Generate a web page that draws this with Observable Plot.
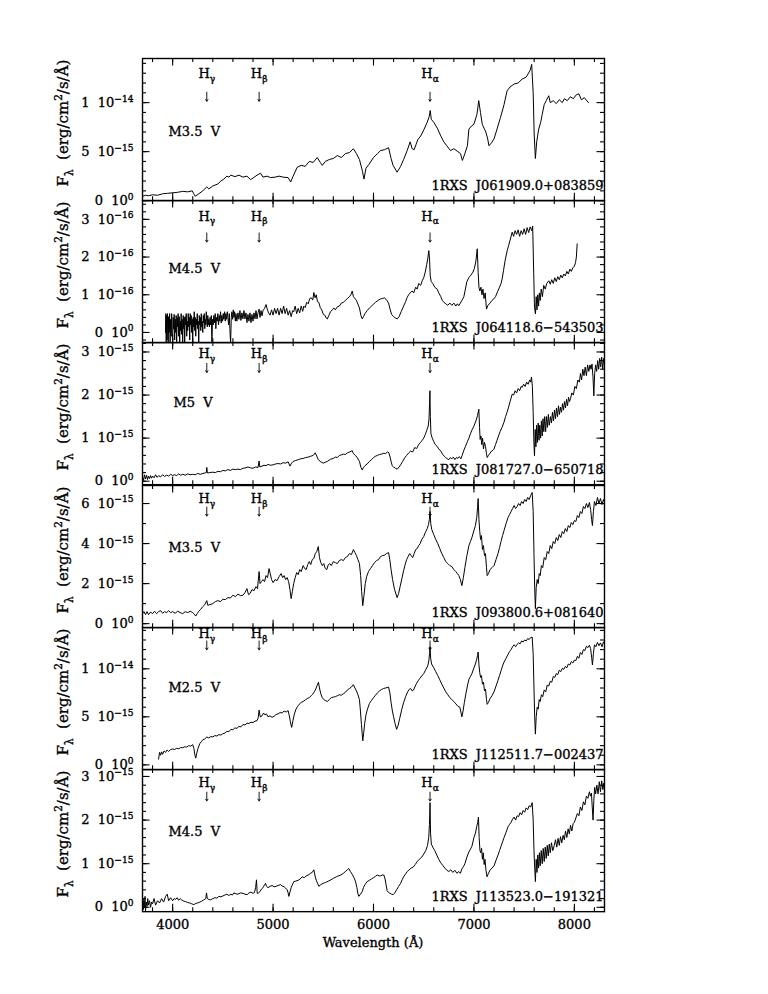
<!DOCTYPE html>
<html><head><meta charset="utf-8">
<script src="https://cdn.jsdelivr.net/npm/d3@7"></script>
<script src="https://cdn.jsdelivr.net/npm/@observablehq/plot@0.6"></script>
<style>
body{margin:0;background:#fff;}
#chart{position:relative;width:768px;height:994px;}
#chart svg{position:absolute;left:0;overflow:visible;}
#chart svg text{stroke:black;stroke-width:0.35px;}
</style></head><body><div id="chart"></div>
<script>
// ---------- data ----------
const objectNames = ["1RXS  J061909.0+083859","1RXS  J064118.6\u2212543503","1RXS  J081727.0\u2212650718","1RXS  J093800.6+081640","1RXS  J112511.7\u2212002437","1RXS  J113523.0\u2212191321"];
const spectralTypes = ["M3.5  V","M4.5  V","M5  V","M3.5  V","M2.5  V","M4.5  V"];
const lineWavelengths = [4340, 4861, 6563];
const lineNames = ["H_\u03b3","H_\u03b2","H_\u03b1"];
// flux units per panel (panel 2 in 1e-16, others 1e-15)
const fluxUnits = [1e-15, 1e-16, 1e-15, 1e-15, 1e-15, 1e-15];

const spec1 = [[3700,0.45],[3730,0.55],[3760,0.5],[3800,0.6],[3850,0.55],[3900,0.7],[3950,0.75],[4000,0.8],[4050,0.85],[4100,0.95],[4150,0.9],[4195,1.0],[4210,0.7],[4225,0.45],[4260,0.7],[4300,1.0],[4340,1.4],[4360,1.2],[4400,1.5],[4450,1.7],[4480,2.0],[4510,2.2],[4540,2.5],[4560,2.4],[4580,2.6],[4620,2.45],[4660,2.6],[4700,2.4],[4740,2.5],[4775,2.15],[4800,2.3],[4840,2.6],[4875,2.8],[4900,2.4],[4940,2.5],[4975,2.35],[5020,2.4],[5060,2.5],[5100,2.4],[5150,2.35],[5175,1.9],[5200,2.5],[5240,3.4],[5280,3.6],[5320,3.5],[5360,4.0],[5400,3.9],[5440,4.4],[5470,3.9],[5490,3.6],[5520,4.0],[5560,4.2],[5600,4.3],[5640,4.6],[5680,4.4],[5720,4.8],[5760,4.9],[5800,5.3],[5830,4.8],[5860,4.2],[5890,3.0],[5905,2.2],[5925,3.3],[5955,3.7],[6000,4.4],[6040,4.8],[6070,5.1],[6110,5.2],[6150,5.4],[6175,4.3],[6195,3.6],[6235,2.9],[6270,3.5],[6300,4.2],[6335,5.1],[6365,6.0],[6385,5.3],[6405,5.2],[6440,6.2],[6470,6.6],[6500,7.2],[6535,8.0],[6555,8.6],[6565,9.2],[6575,8.3],[6600,8.0],[6635,7.4],[6670,6.6],[6700,6.0],[6730,5.6],[6767,5.1],[6800,5.3],[6840,5.0],[6866,4.8],[6885,4.1],[6910,4.8],[6935,5.6],[6950,7.3],[6975,7.6],[7000,7.8],[7030,8.8],[7048,10.2],[7065,9.0],[7083,7.8],[7100,7.4],[7115,7.1],[7135,6.4],[7150,5.6],[7175,5.9],[7200,6.3],[7230,7.3],[7265,8.5],[7300,9.8],[7330,11.2],[7360,11.6],[7400,11.9],[7440,12.0],[7480,12.4],[7520,12.6],[7560,13.3],[7575,13.9],[7590,11.0],[7600,6.8],[7612,4.3],[7625,6.0],[7645,7.3],[7665,8.0],[7680,8.8],[7700,9.8],[7720,10.2],[7745,10.7],[7760,10.0],[7790,10.2],[7820,9.9],[7850,10.3],[7880,10.0],[7900,10.4],[7930,10.2],[7960,10.6],[7990,10.4],[8020,10.8],[8045,10.9],[8070,10.3],[8100,10.5],[8140,10.0]];

const spec2 = [[3929,0.0],[3932,0.5],[3936,-0.3],[3940,0.45],[3944,-0.2],[3948,0.5],[3952,0.1],[3956,-0.3],[3960,0.42],[3965,0.0],[3970,0.5],[3975,-0.25],[3980,0.35],[3985,-0.1],[3990,0.5],[3995,0.0],[4000,-0.3],[4005,0.4],[4010,0.1],[4015,0.48],[4020,-0.2],[4025,0.35],[4030,0.0],[4035,0.45],[4040,-0.3],[4045,0.4],[4050,0.15],[4055,0.5],[4060,-0.1],[4065,0.42],[4070,-0.3],[4075,0.3],[4080,0.05],[4085,0.5],[4090,-0.05],[4095,0.35],[4100,-0.25],[4105,0.45],[4110,0.1],[4115,0.4],[4120,-0.3],[4125,0.42],[4130,0.2],[4135,0.5],[4140,-0.1],[4145,0.3],[4150,0.05],[4155,0.5],[4160,0.15],[4165,0.4],[4170,-0.2],[4175,0.5],[4180,0.2],[4185,0.45],[4190,0.0],[4195,0.35],[4200,-0.25],[4205,0.4],[4210,0.15],[4215,0.55],[4220,0.05],[4225,0.4],[4230,-0.1],[4235,0.35],[4240,0.2],[4245,0.5],[4250,0.1],[4255,0.3],[4260,-0.3],[4265,0.45],[4270,0.2],[4275,0.4],[4280,0.05],[4285,0.5],[4290,0.15],[4295,0.3],[4300,0.0],[4305,0.45],[4310,0.25],[4315,0.5],[4320,0.1],[4325,0.35],[4330,0.2],[4335,0.55],[4340,0.3],[4345,0.15],[4350,0.45],[4355,0.2],[4360,0.35],[4366,0.15],[4372,0.4],[4378,0.2],[4385,0.45],[4391,-0.3],[4397,0.35],[4404,0.2],[4410,0.45],[4417,0.25],[4424,0.5],[4430,0.1],[4437,0.4],[4444,0.3],[4450,0.5],[4457,0.2],[4464,0.45],[4470,0.3],[4477,0.55],[4484,0.25],[4490,0.45],[4497,0.3],[4504,0.5],[4510,0.35],[4517,0.55],[4524,0.3],[4530,0.5],[4537,0.35],[4544,0.55],[4550,0.4],[4557,0.2],[4564,0.5],[4570,0.1],[4577,-0.3],[4584,0.4],[4590,0.55],[4597,0.35],[4604,0.6],[4610,0.4],[4617,0.55],[4624,0.3],[4630,0.5],[4640,0.3],[4650,0.52],[4660,0.35],[4670,0.58],[4680,0.32],[4690,0.52],[4700,0.36],[4710,0.58],[4720,0.36],[4730,0.52],[4740,0.26],[4750,0.48],[4760,0.3],[4770,0.52],[4780,0.26],[4790,0.48],[4800,0.3],[4810,0.52],[4820,0.36],[4830,0.58],[4840,0.36],[4850,0.52],[4861,0.62],[4870,0.4],[4880,0.58],[4890,0.44],[4900,0.58],[4915,0.64],[4930,0.74],[4942,0.62],[4955,0.52],[4970,0.46],[4985,0.6],[5000,0.46],[5015,0.64],[5030,0.5],[5045,0.64],[5060,0.46],[5075,0.64],[5090,0.5],[5105,0.7],[5120,0.5],[5135,0.64],[5150,0.46],[5165,0.58],[5180,0.42],[5195,0.58],[5206,0.55],[5220,0.7],[5235,0.5],[5250,0.64],[5265,0.52],[5280,0.7],[5295,0.56],[5306,0.7],[5320,0.66],[5335,0.8],[5350,0.76],[5365,0.9],[5380,0.92],[5395,0.86],[5406,1.06],[5418,0.92],[5430,1.0],[5442,0.82],[5455,0.8],[5470,0.66],[5485,0.6],[5500,0.48],[5515,0.46],[5530,0.38],[5540,0.36],[5555,0.45],[5572,0.55],[5590,0.6],[5605,0.65],[5620,0.6],[5640,0.68],[5660,0.7],[5680,0.78],[5700,0.8],[5720,0.85],[5740,0.9],[5760,0.95],[5775,1.0],[5788,1.1],[5800,0.95],[5815,0.9],[5830,0.85],[5845,0.75],[5860,0.65],[5875,0.45],[5888,0.36],[5900,0.42],[5915,0.5],[5937,0.58],[5960,0.65],[5980,0.7],[6000,0.75],[6020,0.8],[6045,0.85],[6070,0.89],[6090,0.9],[6110,0.92],[6136,0.84],[6150,0.78],[6165,0.62],[6180,0.48],[6200,0.42],[6220,0.38],[6236,0.36],[6255,0.42],[6275,0.55],[6300,0.7],[6320,0.82],[6335,0.93],[6350,1.0],[6365,1.05],[6385,1.1],[6400,1.05],[6420,1.2],[6435,1.15],[6450,1.3],[6470,1.25],[6485,1.37],[6500,1.45],[6515,1.6],[6530,1.8],[6540,1.95],[6551,2.17],[6558,1.95],[6565,1.5],[6575,1.35],[6590,1.3],[6610,1.2],[6634,1.15],[6650,1.05],[6670,0.95],[6685,0.85],[6700,0.8],[6720,0.76],[6740,0.72],[6760,0.78],[6780,0.72],[6800,0.78],[6820,0.7],[6835,0.76],[6849,0.71],[6865,0.78],[6880,0.85],[6900,0.95],[6915,1.15],[6930,1.35],[6950,1.46],[6970,1.52],[6990,1.6],[7005,1.7],[7020,1.9],[7033,2.22],[7042,1.6],[7050,1.2],[7059,1.1],[7070,1.2],[7080,1.0],[7090,1.15],[7100,0.9],[7112,1.05],[7125,0.62],[7140,0.72],[7160,0.78],[7180,0.85],[7198,0.89],[7215,0.95],[7235,1.08],[7255,1.2],[7270,1.3],[7281,1.42],[7295,1.65],[7310,1.9],[7331,2.17],[7345,2.3],[7360,2.45],[7381,2.66],[7395,2.55],[7410,2.7],[7425,2.6],[7440,2.72],[7455,2.55],[7470,2.7],[7485,2.6],[7500,2.75],[7515,2.6],[7530,2.78],[7545,2.65],[7560,2.8],[7575,2.7],[7585,2.82],[7595,1.6],[7603,0.66],[7613,0.49],[7620,0.95],[7628,0.6],[7636,1.0],[7644,0.7],[7652,1.05],[7660,0.85],[7670,1.15],[7682,0.95],[7695,1.25],[7710,1.15],[7725,1.3],[7746,1.37],[7760,1.28],[7775,1.4],[7790,1.3],[7805,1.45],[7820,1.35],[7835,1.48],[7850,1.4],[7865,1.52],[7880,1.45],[7895,1.55],[7910,1.5],[7925,1.62],[7940,1.55],[7955,1.68],[7970,1.62],[7985,1.72],[8000,1.75],[8012,1.86],[8020,2.0],[8028,2.35]];

const spec3 = [[3700,0.1],[3710,0.02],[3720,0.15],[3730,0.05],[3740,0.14],[3750,0.04],[3760,0.12],[3770,0.06],[3780,0.13],[3790,0.07],[3800,0.12],[3815,0.08],[3830,0.15],[3845,0.09],[3860,0.13],[3880,0.1],[3900,0.15],[3920,0.11],[3940,0.14],[3960,0.12],[3980,0.16],[4000,0.13],[4020,0.15],[4040,0.13],[4060,0.17],[4080,0.14],[4100,0.16],[4125,0.14],[4150,0.17],[4175,0.15],[4200,0.16],[4225,0.15],[4250,0.18],[4275,0.16],[4300,0.18],[4320,0.19],[4335,0.2],[4340,0.32],[4346,0.19],[4370,0.2],[4400,0.21],[4425,0.2],[4450,0.23],[4475,0.22],[4500,0.25],[4525,0.24],[4550,0.27],[4575,0.25],[4600,0.28],[4625,0.27],[4650,0.28],[4675,0.27],[4700,0.3],[4725,0.31],[4750,0.33],[4775,0.31],[4800,0.3],[4825,0.33],[4850,0.32],[4861,0.47],[4868,0.33],[4890,0.35],[4910,0.37],[4930,0.36],[4950,0.39],[4975,0.37],[5000,0.38],[5025,0.4],[5050,0.41],[5075,0.4],[5100,0.43],[5125,0.42],[5150,0.45],[5168,0.35],[5185,0.42],[5200,0.46],[5225,0.48],[5250,0.5],[5275,0.52],[5300,0.53],[5325,0.55],[5350,0.56],[5375,0.58],[5400,0.6],[5420,0.66],[5435,0.58],[5450,0.5],[5475,0.45],[5500,0.42],[5520,0.44],[5540,0.46],[5572,0.51],[5600,0.53],[5620,0.56],[5640,0.55],[5660,0.6],[5680,0.61],[5700,0.63],[5720,0.62],[5740,0.66],[5765,0.68],[5788,0.71],[5800,0.64],[5820,0.6],[5840,0.54],[5860,0.46],[5875,0.32],[5888,0.26],[5900,0.32],[5915,0.36],[5937,0.4],[5960,0.46],[5980,0.5],[6000,0.55],[6020,0.58],[6040,0.6],[6060,0.62],[6080,0.63],[6103,0.65],[6120,0.64],[6140,0.68],[6153,0.66],[6165,0.56],[6176,0.45],[6186,0.36],[6200,0.33],[6220,0.3],[6236,0.28],[6255,0.33],[6270,0.38],[6290,0.46],[6310,0.54],[6330,0.6],[6352,0.66],[6370,0.7],[6390,0.68],[6410,0.78],[6430,0.76],[6450,0.85],[6468,0.9],[6485,0.95],[6500,1.0],[6515,1.08],[6530,1.18],[6545,1.28],[6553,1.45],[6558,1.8],[6562,2.1],[6566,1.5],[6572,1.1],[6585,1.0],[6600,0.92],[6615,0.85],[6634,0.81],[6650,0.75],[6670,0.7],[6690,0.62],[6705,0.58],[6717,0.55],[6735,0.52],[6750,0.5],[6765,0.55],[6780,0.52],[6795,0.56],[6810,0.5],[6825,0.55],[6840,0.53],[6855,0.57],[6870,0.52],[6883,0.6],[6900,0.72],[6916,0.81],[6935,0.92],[6950,1.0],[6965,1.1],[6983,1.2],[7000,1.28],[7020,1.4],[7035,1.52],[7049,1.67],[7056,1.25],[7062,0.97],[7070,1.05],[7078,0.85],[7086,1.0],[7095,0.75],[7105,0.9],[7115,0.81],[7124,0.65],[7132,0.55],[7145,0.6],[7160,0.65],[7175,0.7],[7190,0.72],[7198,0.74],[7215,0.85],[7230,0.95],[7245,1.05],[7260,1.15],[7280,1.25],[7298,1.36],[7315,1.5],[7330,1.6],[7345,1.72],[7360,1.85],[7381,2.02],[7395,2.0],[7410,2.1],[7425,2.05],[7440,2.15],[7455,2.1],[7470,2.2],[7481,2.18],[7495,2.25],[7510,2.2],[7525,2.3],[7540,2.25],[7555,2.35],[7565,2.3],[7573,2.42],[7582,2.2],[7590,1.6],[7597,0.9],[7603,0.59],[7610,1.2],[7617,0.8],[7624,1.3],[7632,0.9],[7640,1.35],[7648,0.95],[7656,1.3],[7664,1.0],[7672,1.4],[7680,1.05],[7688,1.45],[7696,1.15],[7705,1.5],[7714,1.15],[7723,1.5],[7732,1.25],[7741,1.55],[7750,1.3],[7762,1.5],[7772,1.35],[7782,1.6],[7792,1.4],[7802,1.65],[7812,1.45],[7822,1.7],[7832,1.5],[7842,1.75],[7852,1.55],[7862,1.72],[7872,1.6],[7882,1.8],[7892,1.65],[7902,1.85],[7912,1.7],[7922,1.9],[7932,1.75],[7942,1.95],[7952,1.85],[7962,1.92],[7975,2.05],[7990,2.0],[8005,2.2],[8020,2.15],[8035,2.35],[8050,2.3],[8061,2.5],[8072,2.35],[8084,2.6],[8096,2.45],[8108,2.65],[8120,2.45],[8132,2.7],[8144,2.55],[8156,2.7],[8166,2.6],[8176,2.72],[8186,2.4],[8194,1.98],[8202,2.5],[8212,2.7],[8222,2.55],[8232,2.8],[8242,2.6],[8252,2.85],[8262,2.65],[8272,2.88],[8282,2.6],[8292,2.85],[8300,2.7]];

const spec4 = [[3700,0.5],[3715,0.6],[3730,0.45],[3745,0.6],[3760,0.45],[3780,0.58],[3800,0.5],[3820,0.62],[3840,0.5],[3860,0.6],[3880,0.65],[3900,0.52],[3920,0.6],[3940,0.55],[3960,0.65],[3980,0.55],[4000,0.6],[4025,0.52],[4050,0.62],[4075,0.55],[4100,0.5],[4125,0.6],[4150,0.55],[4175,0.62],[4200,0.55],[4215,0.48],[4230,0.38],[4245,0.5],[4260,0.62],[4280,0.72],[4300,0.85],[4320,0.95],[4340,1.15],[4350,0.92],[4370,0.95],[4400,1.0],[4425,1.1],[4450,1.15],[4475,1.1],[4500,1.22],[4525,1.2],[4550,1.3],[4575,1.28],[4600,1.42],[4625,1.35],[4650,1.48],[4675,1.4],[4700,1.42],[4720,1.55],[4740,1.75],[4755,1.45],[4770,1.5],[4790,1.7],[4810,1.65],[4830,1.85],[4845,1.75],[4861,2.6],[4870,2.0],[4885,2.1],[4900,2.2],[4915,2.1],[4930,2.4],[4945,2.3],[4960,2.75],[4972,2.5],[4985,2.2],[5000,2.05],[5020,2.2],[5040,2.15],[5060,2.35],[5080,2.5],[5095,2.3],[5110,2.4],[5125,2.2],[5140,2.3],[5155,2.1],[5168,1.7],[5180,1.25],[5192,1.6],[5205,2.0],[5220,2.3],[5235,2.55],[5250,2.45],[5265,2.7],[5280,2.6],[5300,2.9],[5315,2.75],[5330,2.7],[5345,2.95],[5360,3.1],[5375,2.95],[5390,3.2],[5405,3.25],[5420,3.5],[5435,3.6],[5450,3.85],[5462,3.3],[5475,3.05],[5490,2.9],[5505,3.0],[5520,2.75],[5535,2.7],[5550,2.95],[5565,3.0],[5580,2.9],[5600,3.1],[5620,3.05],[5640,3.0],[5660,3.15],[5680,3.2],[5700,3.15],[5720,3.3],[5740,3.35],[5760,3.5],[5780,3.45],[5800,3.7],[5815,3.55],[5830,3.4],[5845,3.2],[5860,3.0],[5872,2.4],[5882,1.6],[5893,0.9],[5905,1.4],[5918,2.0],[5932,2.35],[5950,2.6],[5970,2.75],[5990,2.9],[6010,3.05],[6030,3.15],[6050,3.2],[6070,3.35],[6090,3.4],[6110,3.42],[6130,3.5],[6150,3.55],[6162,3.2],[6175,2.7],[6190,2.2],[6210,1.7],[6235,1.3],[6250,1.5],[6265,1.85],[6285,2.3],[6300,2.65],[6315,2.95],[6330,3.2],[6345,3.35],[6360,3.5],[6375,3.4],[6390,3.3],[6405,3.5],[6420,3.7],[6435,3.75],[6450,3.9],[6465,4.0],[6480,4.2],[6500,4.35],[6520,4.6],[6535,4.75],[6548,4.95],[6556,5.2],[6563,5.6],[6570,5.0],[6580,4.7],[6600,4.45],[6620,4.2],[6640,4.0],[6660,3.75],[6680,3.5],[6700,3.3],[6720,3.1],[6740,3.0],[6760,2.9],[6780,2.85],[6800,2.7],[6820,2.6],[6835,2.5],[6850,2.4],[6865,2.2],[6880,1.9],[6895,2.3],[6910,2.8],[6930,3.4],[6950,3.9],[6965,4.1],[6980,4.3],[7000,4.65],[7015,4.9],[7028,5.3],[7036,5.8],[7042,6.25],[7050,5.2],[7058,4.6],[7066,4.2],[7075,4.4],[7085,3.7],[7095,3.9],[7105,3.4],[7115,3.5],[7125,2.8],[7132,2.4],[7145,2.5],[7160,2.7],[7180,2.8],[7200,2.9],[7220,3.2],[7240,3.5],[7255,3.8],[7270,4.1],[7285,4.4],[7300,4.65],[7320,5.0],[7340,5.3],[7355,5.45],[7370,5.6],[7385,5.75],[7400,5.9],[7415,5.75],[7430,5.85],[7445,6.0],[7460,5.9],[7475,6.1],[7490,6.0],[7505,6.2],[7520,6.1],[7535,6.3],[7550,6.2],[7565,6.4],[7580,6.55],[7590,5.6],[7598,3.5],[7605,1.8],[7612,0.75],[7620,1.8],[7630,2.2],[7640,2.0],[7650,2.5],[7660,2.4],[7672,2.9],[7685,2.8],[7700,3.3],[7715,3.2],[7730,3.6],[7745,3.5],[7760,3.9],[7775,3.75],[7790,4.1],[7805,4.0],[7820,4.3],[7835,4.15],[7850,4.45],[7865,4.3],[7880,4.6],[7895,4.5],[7910,4.75],[7925,4.6],[7940,4.9],[7955,4.8],[7970,5.05],[7985,4.95],[8000,5.15],[8015,5.1],[8030,5.4],[8045,5.3],[8060,5.6],[8075,5.5],[8090,5.85],[8105,5.75],[8120,6.0],[8135,5.8],[8150,6.05],[8162,5.7],[8172,5.2],[8180,4.9],[8190,5.6],[8200,6.1],[8215,5.9],[8230,6.3],[8245,6.0],[8260,6.25],[8275,5.95],[8290,6.2],[8300,6.05]];

const spec5 = [[3860,0.6],[3870,1.3],[3880,1.0],[3890,1.35],[3900,1.1],[3915,1.45],[3930,1.3],[3945,1.55],[3960,1.4],[3980,1.6],[4000,1.65],[4020,1.6],[4040,1.72],[4060,1.68],[4080,1.8],[4100,1.78],[4120,1.88],[4140,1.85],[4160,2.0],[4180,1.95],[4200,2.1],[4212,1.7],[4222,1.0],[4230,0.7],[4240,1.2],[4252,1.7],[4270,2.2],[4285,2.4],[4300,2.6],[4320,2.7],[4340,2.9],[4360,2.8],[4380,2.95],[4400,2.9],[4420,3.05],[4440,3.0],[4460,3.15],[4480,3.1],[4500,3.25],[4520,3.3],[4540,3.5],[4560,3.45],[4580,3.7],[4600,3.65],[4620,3.85],[4640,3.8],[4660,4.0],[4680,3.95],[4700,4.2],[4720,4.15],[4740,4.35],[4760,4.3],[4780,4.45],[4800,4.4],[4820,4.55],[4840,4.6],[4852,4.9],[4861,5.7],[4872,5.0],[4890,5.1],[4905,5.4],[4920,5.2],[4935,5.3],[4950,5.0],[4970,5.1],[4990,4.95],[5010,5.05],[5030,5.25],[5050,5.3],[5070,5.45],[5090,5.4],[5110,5.6],[5130,5.5],[5150,5.65],[5162,5.1],[5172,4.5],[5185,3.9],[5198,4.6],[5212,5.3],[5228,5.8],[5245,6.1],[5260,6.3],[5280,6.5],[5300,6.6],[5320,6.75],[5340,6.9],[5360,7.0],[5380,7.2],[5395,7.35],[5410,7.6],[5425,7.9],[5440,8.3],[5452,8.6],[5462,8.0],[5475,7.4],[5490,7.0],[5505,6.8],[5520,6.7],[5540,6.6],[5560,6.8],[5580,7.0],[5600,7.05],[5620,7.1],[5640,7.2],[5660,7.3],[5680,7.25],[5700,7.4],[5720,7.55],[5740,7.8],[5760,7.95],[5780,8.1],[5800,8.35],[5815,8.0],[5830,7.7],[5845,7.3],[5860,6.8],[5870,5.6],[5880,4.2],[5893,2.5],[5902,3.3],[5912,4.3],[5925,5.2],[5940,5.8],[5960,6.4],[5980,6.7],[6000,7.0],[6020,7.25],[6040,7.5],[6060,7.7],[6080,7.85],[6100,7.95],[6120,8.0],[6135,8.05],[6150,8.1],[6163,7.5],[6175,6.5],[6188,5.6],[6200,5.0],[6215,4.3],[6230,3.7],[6245,4.1],[6260,4.8],[6280,5.7],[6300,6.5],[6320,7.1],[6340,7.6],[6355,7.85],[6370,7.95],[6385,7.7],[6400,7.8],[6415,8.2],[6430,8.5],[6445,8.75],[6460,9.0],[6480,9.25],[6500,9.5],[6520,9.9],[6540,10.3],[6552,10.9],[6558,11.6],[6563,12.3],[6569,11.1],[6578,10.5],[6600,10.1],[6620,9.7],[6640,9.3],[6660,8.85],[6680,8.4],[6700,8.0],[6720,7.6],[6740,7.3],[6760,7.0],[6780,6.8],[6800,6.6],[6820,6.35],[6840,6.1],[6860,6.0],[6870,5.5],[6880,5.0],[6890,5.5],[6905,6.5],[6920,7.4],[6935,8.2],[6950,8.9],[6965,9.2],[6980,9.5],[7000,10.1],[7015,10.5],[7028,11.0],[7036,11.4],[7042,11.75],[7050,10.4],[7058,9.6],[7066,9.1],[7075,9.3],[7085,8.4],[7095,8.6],[7105,7.7],[7115,7.9],[7125,6.8],[7132,6.3],[7145,6.5],[7160,6.9],[7180,7.2],[7200,7.6],[7220,8.2],[7240,8.8],[7255,9.3],[7270,9.8],[7285,10.3],[7300,10.7],[7320,11.1],[7340,11.5],[7355,11.8],[7370,12.0],[7385,12.3],[7400,12.5],[7415,12.3],[7430,12.55],[7445,12.7],[7460,12.6],[7475,12.9],[7490,12.8],[7505,13.0],[7520,12.9],[7535,13.15],[7550,13.05],[7565,13.25],[7580,13.3],[7590,11.5],[7598,8.0],[7605,5.0],[7612,3.2],[7620,5.0],[7630,6.0],[7640,5.8],[7650,6.8],[7660,6.6],[7672,7.3],[7685,7.1],[7700,7.8],[7715,7.6],[7730,8.3],[7745,8.2],[7760,8.7],[7775,8.6],[7790,9.2],[7805,9.1],[7820,9.5],[7835,9.4],[7850,9.85],[7865,9.7],[7880,10.05],[7895,9.95],[7910,10.25],[7925,10.1],[7940,10.5],[7955,10.4],[7970,10.75],[7985,10.6],[8000,10.9],[8015,10.85],[8030,11.3],[8045,11.1],[8060,11.7],[8075,11.5],[8090,12.0],[8105,11.9],[8120,12.35],[8135,12.2],[8150,12.45],[8162,12.1],[8172,11.2],[8180,10.4],[8190,11.6],[8200,12.5],[8215,12.3],[8230,12.75],[8245,12.4],[8260,12.7],[8275,12.3],[8290,12.8],[8300,12.6]];

const spec6 = [[3700,0.05],[3705,0.2],[3710,-0.05],[3715,0.15],[3720,0.0],[3725,0.25],[3730,-0.08],[3738,0.12],[3745,0.02],[3752,0.2],[3760,0.05],[3770,0.15],[3780,0.0],[3790,0.12],[3800,0.08],[3815,0.2],[3830,0.05],[3850,0.15],[3870,0.1],[3890,0.2],[3910,0.12],[3930,0.25],[3946,0.3],[3960,0.15],[3980,0.22],[4000,0.15],[4015,0.2],[4030,0.18],[4045,0.22],[4060,0.16],[4075,0.2],[4090,0.17],[4112,0.14],[4130,0.13],[4150,0.11],[4170,0.1],[4190,0.08],[4211,0.06],[4230,0.09],[4250,0.1],[4270,0.12],[4290,0.14],[4310,0.17],[4330,0.2],[4337,0.33],[4345,0.2],[4360,0.18],[4377,0.17],[4400,0.2],[4420,0.22],[4440,0.21],[4460,0.25],[4480,0.24],[4500,0.26],[4520,0.28],[4540,0.3],[4560,0.27],[4580,0.3],[4595,0.28],[4609,0.33],[4630,0.31],[4650,0.3],[4675,0.33],[4700,0.32],[4720,0.3],[4742,0.29],[4760,0.33],[4780,0.35],[4800,0.32],[4815,0.34],[4826,0.45],[4835,0.63],[4842,0.32],[4855,0.33],[4870,0.36],[4885,0.42],[4900,0.45],[4912,0.5],[4925,0.55],[4935,0.48],[4950,0.45],[4970,0.48],[4990,0.5],[5010,0.47],[5030,0.48],[5050,0.5],[5074,0.52],[5090,0.49],[5110,0.47],[5125,0.44],[5141,0.4],[5150,0.33],[5157,0.25],[5168,0.35],[5180,0.45],[5195,0.53],[5207,0.59],[5225,0.6],[5250,0.62],[5270,0.65],[5290,0.7],[5310,0.68],[5330,0.72],[5350,0.74],[5373,0.78],[5390,0.8],[5406,0.86],[5418,0.72],[5430,0.62],[5443,0.55],[5456,0.48],[5475,0.52],[5500,0.55],[5525,0.57],[5550,0.6],[5575,0.63],[5605,0.67],[5630,0.7],[5650,0.72],[5675,0.74],[5700,0.78],[5720,0.82],[5740,0.86],[5754,0.89],[5770,0.82],[5790,0.75],[5805,0.68],[5820,0.6],[5835,0.45],[5846,0.3],[5854,0.25],[5870,0.3],[5888,0.36],[5900,0.45],[5915,0.52],[5937,0.59],[5960,0.62],[5980,0.65],[6000,0.68],[6020,0.71],[6037,0.74],[6055,0.72],[6070,0.72],[6088,0.74],[6103,0.74],[6115,0.65],[6125,0.52],[6136,0.38],[6150,0.34],[6165,0.32],[6180,0.3],[6196,0.29],[6212,0.33],[6230,0.4],[6250,0.48],[6270,0.55],[6285,0.63],[6300,0.7],[6318,0.76],[6336,0.82],[6355,0.86],[6375,0.9],[6395,0.92],[6415,0.98],[6436,1.05],[6455,1.1],[6480,1.15],[6500,1.22],[6520,1.3],[6538,1.42],[6550,1.6],[6557,1.9],[6563,2.4],[6568,1.7],[6576,1.45],[6590,1.38],[6610,1.3],[6630,1.2],[6650,1.1],[6670,1.02],[6690,0.96],[6710,0.9],[6730,0.85],[6750,0.82],[6770,0.86],[6790,0.8],[6810,0.85],[6830,0.78],[6850,0.82],[6865,0.78],[6880,0.88],[6895,0.93],[6910,1.0],[6930,1.15],[6950,1.27],[6965,1.33],[6980,1.4],[7000,1.6],[7015,1.7],[7028,1.85],[7038,1.95],[7045,2.07],[7052,1.6],[7060,1.3],[7068,1.25],[7076,1.35],[7085,1.1],[7093,1.25],[7102,0.98],[7110,1.1],[7120,0.85],[7130,0.7],[7145,0.78],[7160,0.85],[7180,0.9],[7200,0.95],[7220,1.08],[7240,1.2],[7255,1.3],[7270,1.4],[7285,1.5],[7300,1.6],[7320,1.72],[7340,1.85],[7355,1.9],[7370,1.95],[7385,2.02],[7400,2.07],[7415,2.0],[7430,2.1],[7445,2.08],[7460,2.17],[7475,2.12],[7490,2.22],[7505,2.18],[7520,2.28],[7535,2.24],[7550,2.33],[7565,2.3],[7580,2.4],[7590,2.0],[7598,1.3],[7605,0.9],[7612,0.59],[7620,1.1],[7628,0.8],[7636,1.2],[7644,0.9],[7652,1.25],[7660,0.95],[7670,1.3],[7680,1.0],[7690,1.35],[7700,1.05],[7710,1.38],[7720,1.12],[7730,1.42],[7740,1.18],[7750,1.45],[7760,1.25],[7772,1.48],[7785,1.3],[7800,1.42],[7812,1.55],[7825,1.38],[7838,1.58],[7850,1.42],[7862,1.62],[7875,1.48],[7888,1.65],[7900,1.55],[7912,1.75],[7925,1.6],[7938,1.8],[7950,1.68],[7962,1.88],[7975,1.75],[7988,1.92],[8000,1.95],[8015,2.05],[8030,2.15],[8045,2.1],[8060,2.3],[8075,2.22],[8090,2.42],[8105,2.35],[8120,2.55],[8135,2.5],[8150,2.65],[8160,2.55],[8170,2.62],[8178,2.3],[8186,2.0],[8194,2.45],[8202,2.75],[8212,2.6],[8224,2.8],[8236,2.6],[8248,2.88],[8260,2.65],[8272,2.9],[8284,2.7],[8294,2.85],[8300,2.75]];

// y tick values (in panel flux units) and their labels
const yTicks1 = [0, 5, 10], yLabels1 = ["0  10^{0}", "5  10^{\u221215}", "1  10^{\u221214}"];
const yTicks2 = [0, 1, 2, 3], yLabels2 = ["0  10^{0}", "1  10^{\u221216}", "2  10^{\u221216}", "3  10^{\u221216}"];
const yTicks3 = [0, 1, 2, 3], yLabels3 = ["0  10^{0}", "1  10^{\u221215}", "2  10^{\u221215}", "3  10^{\u221215}"];
const yTicks4 = [0, 2, 4, 6], yLabels4 = ["0  10^{0}", "2  10^{\u221215}", "4  10^{\u221215}", "6  10^{\u221215}"];
const yTicks5 = [0, 5, 10], yLabels5 = ["0  10^{0}", "5  10^{\u221215}", "1  10^{\u221214}"];
const yTicks6 = [0, 1, 2, 3], yLabels6 = ["0  10^{0}", "1  10^{\u221215}", "2  10^{\u221215}", "3  10^{\u221215}"];
const yMinorSteps = [1, 0.2, 0.2, 1, 1, 0.2];
const xTicks = [4000, 5000, 6000, 7000, 8000];
const xTickLabels = ["4000", "5000", "6000", "7000", "8000"];
const xMinorStep = 200;
// annotation heights (flux units): line labels, arrow top/bottom, spectral type labels
const lineLabelY = [12.95, 3.08, 2.95, 6.25, 13.6, 2.86];
const lineArrowTop = [11.06, 2.64, 2.735, 5.825, 12.9, 2.64];
const lineArrowBottom = [10.14, 2.40, 2.525, 5.375, 11.98, 2.44];
const typeLabelY = [7.0, 1.69, 1.81, 3.8, 8.0, 1.72];
const typeLabelX = [3959, 3959, 4009, 3959, 3959, 3959];

// ---------- layout ----------
const W = 768, top0 = 58, bottom = 911, mL = 142, mR = 164;
const H = (bottom - top0) / 6;
const innerW = W - mL - mR;
const xDomain = [3700, 8300];
const yDomains = [[0, 14.5], [-0.27, 3.5], [-0.08, 3.22], [-0.2, 6.9], [-0.5, 14.3], [-0.1, 3.16]];
const specs = [spec1, spec2, spec3, spec4, spec5, spec6];
const yTicksAll = [yTicks1, yTicks2, yTicks3, yTicks4, yTicks5, yTicks6];
const yLabelsAll = [yLabels1, yLabels2, yLabels3, yLabels4, yLabels5, yLabels6];
const FONT = "DejaVu Serif";
const FS = 13;
const NS = "http://www.w3.org/2000/svg";

function range(a, b, s) { const out = []; for (let v = a; v <= b + 1e-9; v += s) out.push(+v.toFixed(6)); return out; }

function richText(el, fs) {
  const s = el.textContent;
  if (!/[_^]/.test(s)) return;
  const parts = s.split(/(_\{[^}]*\}|\^\{[^}]*\}|_.)/).filter(p => p !== "");
  el.textContent = "";
  let shift = 0;
  for (const p of parts) {
    const t = document.createElementNS(NS, "tspan");
    let target = 0, txt = p, small = false;
    if (p.startsWith("_")) { target = fs * 0.3; txt = p.startsWith("_{") ? p.slice(2, -1) : p.slice(1); small = true; }
    else if (p.startsWith("^")) { target = -fs * 0.4; txt = p.slice(2, -1); small = true; }
    t.setAttribute("dy", (target - shift).toFixed(2)); shift = target;
    if (small) t.setAttribute("font-size", (fs * 0.7).toFixed(2));
    t.textContent = txt;
    el.appendChild(t);
  }
}

const chart = document.getElementById("chart");
specs.forEach((spec, i) => {
  const last = i === 5;
  const yd = yDomains[i];
  const inDom = v => v >= yd[0] - 1e-9 && v <= yd[1] + 1e-9;
  const yMaj = yTicksAll[i].filter(inDom);
  const yMin = range(Math.ceil(yd[0] / yMinorSteps[i]) * yMinorSteps[i], yd[1], yMinorSteps[i]).filter(inDom);
  const xMin = range(3800, 8200, xMinorStep);
  const labelMap = new Map(yTicksAll[i].map((t, k) => [t, yLabelsAll[i][k]]));
  const lines = lineWavelengths.map((w, k) => ({w, name: lineNames[k]}));
  const major = 7.5, minor = 4;
  const marks = [
    Plot.line(spec, {x: d => d[0], y: d => d[1], stroke: "black", strokeWidth: 1, clip: true}),
    // inward ticks on all four sides
    Plot.tickX(xTicks, {x: d => d, insetTop: H - major, strokeWidth: 1.1}),
    Plot.tickX(xTicks, {x: d => d, insetBottom: H - major, strokeWidth: 1.1}),
    Plot.tickX(xMin, {x: d => d, insetTop: H - minor, strokeWidth: 1.1}),
    Plot.tickX(xMin, {x: d => d, insetBottom: H - minor, strokeWidth: 1.1}),
    Plot.tickY(yMaj, {y: d => d, insetRight: innerW - major, strokeWidth: 1.1}),
    Plot.tickY(yMaj, {y: d => d, insetLeft: innerW - major, strokeWidth: 1.1}),
    Plot.tickY(yMin, {y: d => d, insetRight: innerW - minor, strokeWidth: 1.1}),
    Plot.tickY(yMin, {y: d => d, insetLeft: innerW - minor, strokeWidth: 1.1}),
    Plot.frame({stroke: "black", strokeWidth: 1.4}),
    Plot.axisY({ticks: yMaj, tickSize: 0, tickPadding: 9, tickFormat: d => labelMap.get(d), fontSize: FS}),
    Plot.text(lines, {x: "w", y: () => lineLabelY[i], text: "name", fontSize: FS}),
    Plot.arrow(lines, {x: "w", y1: () => lineArrowTop[i], y2: () => lineArrowBottom[i], stroke: "black", strokeWidth: 0.9, headLength: 3.5, headAngle: 70}),
    Plot.text([spectralTypes[i]], {x: () => typeLabelX[i], y: () => typeLabelY[i], text: d => d, textAnchor: "start", fontSize: FS}),
    Plot.text([objectNames[i]], {frameAnchor: "bottom-right", dy: -11, dx: -1, text: d => d, textAnchor: "end", fontSize: FS})
  ];
  if (last) marks.push(Plot.axisX({ticks: xTicks, tickSize: 0, tickPadding: 8, tickFormat: (d) => xTickLabels[xTicks.indexOf(d)], fontSize: FS, label: null}));
  const svg = Plot.plot({
    width: W, height: H + (last ? 60 : 0),
    marginLeft: mL, marginRight: mR, marginTop: 0, marginBottom: last ? 60 : 0,
    x: {domain: xDomain, axis: null},
    y: {domain: yd, axis: null},
    style: {fontFamily: FONT, fontSize: FS + "px", overflow: "visible", background: "transparent", whiteSpace: "pre"},
    marks
  });
  svg.style.top = (top0 + i * H) + "px";
  chart.appendChild(svg);
  svg.querySelectorAll("text").forEach(t => {
    const fsAttr = t.closest("[font-size]");
    const fs = fsAttr ? parseFloat(fsAttr.getAttribute("font-size")) : FS;
    richText(t, fs || FS);
  });
  // y-axis title
  const YFS = 15;
  const yt = document.createElementNS(NS, "text");
  yt.setAttribute("transform", `translate(68,${H / 2 - 6}) rotate(-90)`);
  yt.setAttribute("text-anchor", "middle");
  yt.setAttribute("font-size", YFS);
  yt.setAttribute("fill", "black");
  yt.textContent = "F_\u03bb  (erg/cm^{2}/s/\u00c5)";
  svg.appendChild(yt);
  richText(yt, YFS);
  if (last) {
    const xt = document.createElementNS(NS, "text");
    xt.setAttribute("x", mL + innerW / 2);
    xt.setAttribute("y", H + 36);
    xt.setAttribute("text-anchor", "middle");
    xt.setAttribute("font-size", FS);
    xt.setAttribute("fill", "black");
    xt.textContent = "Wavelength (\u00c5)";
    svg.appendChild(xt);
  }
});
</script></body></html>
